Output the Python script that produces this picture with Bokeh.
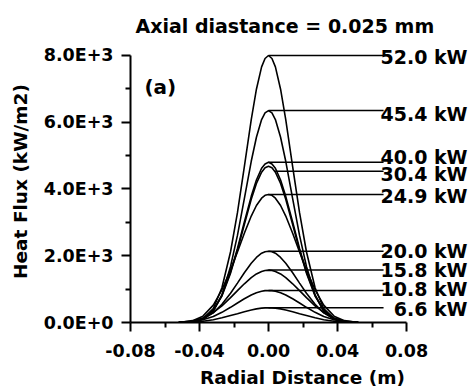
from bokeh.plotting import figure
from bokeh.models import FixedTicker, Range1d
from bokeh.core.properties import value
from bokeh.embed import file_html
from bokeh.resources import INLINE

# Radial distance sample points (m)
radial = [-0.052, -0.044, -0.038, -0.032, -0.027, -0.022, -0.018, -0.014, -0.010, -0.007, -0.004, -0.002, 0.0,
          0.002, 0.004, 0.007, 0.010, 0.014, 0.018, 0.022, 0.027, 0.032, 0.038, 0.044, 0.052]

# Heat flux (kW/m2) for each power level
flux_52_0 = [0, 20, 110, 420, 1040, 2120, 3290, 4670, 6080, 6990, 7660, 7910, 8000,
             7910, 7660, 6990, 6080, 4670, 3290, 2120, 1040, 420, 110, 20, 0]
flux_45_4 = [0, 20, 90, 330, 825, 1680, 2610, 3710, 4830, 5550, 6080, 6280, 6350,
             6280, 6080, 5550, 4830, 3710, 2610, 1680, 825, 330, 90, 20, 0]
flux_40_0 = [0, 30, 120, 375, 815, 1515, 2220, 3010, 3780, 4270, 4620, 4750, 4800,
             4750, 4620, 4270, 3780, 3010, 2220, 1515, 815, 375, 120, 30, 0]
flux_30_4 = [0, 30, 115, 365, 795, 1480, 2165, 2935, 3690, 4165, 4505, 4635, 4680,
             4635, 4505, 4165, 3690, 2935, 2165, 1480, 795, 365, 115, 30, 0]
flux_24_9 = [0, 55, 190, 520, 980, 1575, 2115, 2675, 3190, 3505, 3725, 3810, 3835,
             3810, 3725, 3505, 3190, 2675, 2115, 1575, 980, 520, 190, 55, 0]
flux_20_0 = [0, 30, 105, 290, 545, 875, 1180, 1490, 1775, 1950, 2075, 2120, 2135,
             2120, 2075, 1950, 1775, 1490, 1180, 875, 545, 290, 105, 30, 0]
flux_15_8 = [8, 47, 135, 300, 500, 745, 955, 1160, 1345, 1455, 1530, 1560, 1570,
             1560, 1530, 1455, 1345, 1160, 955, 745, 500, 300, 135, 47, 8]
flux_10_8 = [5, 30, 80, 180, 305, 455, 585, 710, 825, 890, 935, 955, 960,
             955, 935, 890, 825, 710, 585, 455, 305, 180, 80, 30, 5]
flux_6_6 = [2, 13, 37, 84, 140, 210, 265, 325, 377, 408, 430, 437, 440,
            437, 430, 408, 377, 325, 265, 210, 140, 84, 37, 13, 2]

all_series = [flux_52_0, flux_45_4, flux_40_0, flux_30_4, flux_24_9,
              flux_20_0, flux_15_8, flux_10_8, flux_6_6]

# Label texts, leader lines and label heights
power_labels = ["52.0 kW", "45.4 kW", "40.0 kW", "30.4 kW", "24.9 kW",
                "20.0 kW", "15.8 kW", "10.8 kW", "6.6 kW"]
leader_x0 = [0.0, 0.0, 0.0, 0.0036, 0.0, 0.0, 0.0, 0.0, 0.0]
leader_y = [8000, 6350, 4800, 4533, 3835, 2135, 1570, 960, 440]
label_y = [7940, 6232, 4953, 4455, 3805, 2157, 1579, 1000, 419]
leader_x1 = 0.0667
label_x = 0.1154

x_ticks = [-0.08, -0.04, 0.0, 0.04, 0.08]
x_minor = [-0.06, -0.02, 0.02, 0.06]
x_tick_labels = ["-0.08", "-0.04", "0.00", "0.04", "0.08"]
y_ticks = [0, 2000, 4000, 6000, 8000]
y_minor = [1000, 3000, 5000, 7000]
y_tick_labels = ["0.0E+0", "2.0E+3", "4.0E+3", "6.0E+3", "8.0E+3"]

FONT = "DejaVu Sans"

p = figure(width=474, height=392, output_backend="svg", toolbar_location=None,
           x_range=Range1d(-0.08, 0.11942), y_range=Range1d(0, 8449),
           min_border_left=130, min_border_right=0, min_border_top=40, min_border_bottom=70,
           title="Axial diastance = 0.025 mm")
p.title.text_font = FONT
p.title.text_font_style = "bold"
p.title.text_font_size = "19px"
p.title.align = "left"
p.title.offset = 5
p.title.standoff = 8
p.title.text_color = "black"

p.grid.visible = False
p.outline_line_color = None
p.background_fill_color = "white"
p.border_fill_color = "white"

for ys in all_series:
    p.line(radial, ys, line_color="black", line_width=1.6)

p.segment(x0=leader_x0, y0=leader_y, x1=[leader_x1] * len(leader_y), y1=leader_y,
          line_color="black", line_width=1.5)

p.text(x=[label_x] * len(power_labels), y=label_y, text=power_labels,
       text_align="right", text_baseline="middle", text_font=value(FONT),
       text_font_style="bold", text_font_size="19px", text_color="black")

p.text(x=[-0.0719], y=[7041], text=["(a)"], text_align="left", text_baseline="middle",
       text_font=value(FONT), text_font_style="bold", text_font_size="20px", text_color="black")

for ax, ticks, minor, labels in ((p.xaxis[0], x_ticks, x_minor, x_tick_labels),
                                 (p.yaxis[0], y_ticks, y_minor, y_tick_labels)):
    ax.ticker = FixedTicker(ticks=ticks, minor_ticks=minor)
    ax.major_label_overrides = {t: l for t, l in zip(ticks, labels)}
    ax.axis_line_width = 2
    ax.axis_line_color = "black"
    ax.major_tick_line_width = 2
    ax.minor_tick_line_width = 2
    ax.major_tick_line_color = "black"
    ax.minor_tick_line_color = "black"
    ax.major_tick_out = 9
    ax.major_tick_in = 0
    ax.minor_tick_out = 5
    ax.minor_tick_in = 0
    ax.major_label_text_font = FONT
    ax.major_label_text_font_style = "bold"
    ax.major_label_text_font_size = "17.5px"
    ax.major_label_text_color = "black"
    ax.axis_label_text_font = FONT
    ax.axis_label_text_font_style = "bold"
    ax.axis_label_text_font_size = "18.5px"
    ax.axis_label_text_color = "black"

p.xaxis.bounds = (-0.08, 0.08)
p.yaxis.bounds = (0, 8000)
p.xaxis.axis_label = "Radial Distance (m)"
p.yaxis.axis_label = "Heat Flux (kW/m2)"
p.xaxis.major_label_standoff = 12
p.yaxis.major_label_standoff = 8
p.xaxis.axis_label_standoff = 7
p.yaxis.axis_label_standoff = 10

open("out.html", "w").write(file_html(p, INLINE))
